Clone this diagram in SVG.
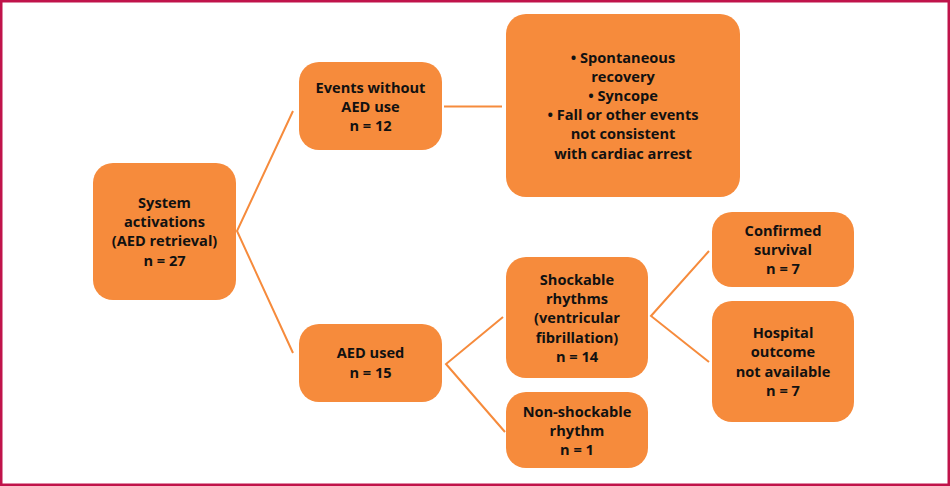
<svg xmlns="http://www.w3.org/2000/svg" width="950" height="486" viewBox="0 0 950 486">
<style>
.frame{fill:#fff;stroke:#C0134A;stroke-width:2.5}
.box{fill:#F68B3C}
.t{font-family:"Open Sans","Noto Sans",sans-serif;font-weight:700;font-size:14.6px;fill:#111;text-anchor:middle}
.c{stroke:#F68B3C;stroke-width:2;fill:none}
</style>
<rect class="frame" x="1.25" y="1.25" width="947.5" height="483.5"/>
<g id="connectors">
<polyline class="c" points="293,111 237,231 293,353"/>
<line class="c" x1="444" y1="106.5" x2="502" y2="106.5"/>
<polyline class="c" points="503,317 446,364 505,432"/>
<polyline class="c" points="709,251 651,316 709,362"/>
</g>
<g id="n-system">
<rect class="box" x="93" y="163" width="143" height="137" rx="20"/>
<text class="t" x="164.5" y="208">System</text>
<text class="t" x="164.5" y="227">activations</text>
<text class="t" x="164.5" y="246">(AED retrieval)</text>
<text class="t" x="164.5" y="266">n = 27</text>
</g>
<g id="n-events">
<rect class="box" x="299" y="62" width="143" height="88" rx="20"/>
<text class="t" x="370.5" y="93">Events without</text>
<text class="t" x="370.5" y="112">AED use</text>
<text class="t" x="370.5" y="131">n = 12</text>
</g>
<g id="n-list">
<rect class="box" x="506" y="14" width="234" height="183" rx="20"/>
<text class="t" x="623" y="63">• Spontaneous</text>
<text class="t" x="623" y="82">recovery</text>
<text class="t" x="623" y="101">• Syncope</text>
<text class="t" x="623" y="120">• Fall or other events</text>
<text class="t" x="623" y="139">not consistent</text>
<text class="t" x="623" y="159">with cardiac arrest</text>
</g>
<g id="n-aedused">
<rect class="box" x="299" y="324" width="143" height="78" rx="20"/>
<text class="t" x="370.5" y="358">AED used</text>
<text class="t" x="370.5" y="378">n = 15</text>
</g>
<g id="n-shockable">
<rect class="box" x="506" y="257" width="142" height="121" rx="20"/>
<text class="t" x="577" y="285">Shockable</text>
<text class="t" x="577" y="304">rhythms</text>
<text class="t" x="577" y="323">(ventricular</text>
<text class="t" x="577" y="343">fibrillation)</text>
<text class="t" x="577" y="362">n = 14</text>
</g>
<g id="n-nonshockable">
<rect class="box" x="506" y="392" width="142" height="76" rx="20"/>
<text class="t" x="577" y="417">Non-shockable</text>
<text class="t" x="577" y="436">rhythm</text>
<text class="t" x="577" y="455">n = 1</text>
</g>
<g id="n-confirmed">
<rect class="box" x="712" y="212" width="142" height="75" rx="20"/>
<text class="t" x="783" y="236">Confirmed</text>
<text class="t" x="783" y="255">survival</text>
<text class="t" x="783" y="274">n = 7</text>
</g>
<g id="n-hospital">
<rect class="box" x="712" y="301" width="142" height="121" rx="20"/>
<text class="t" x="783" y="338">Hospital</text>
<text class="t" x="783" y="357">outcome</text>
<text class="t" x="783" y="377">not available</text>
<text class="t" x="783" y="396">n = 7</text>
</g>
</svg>
